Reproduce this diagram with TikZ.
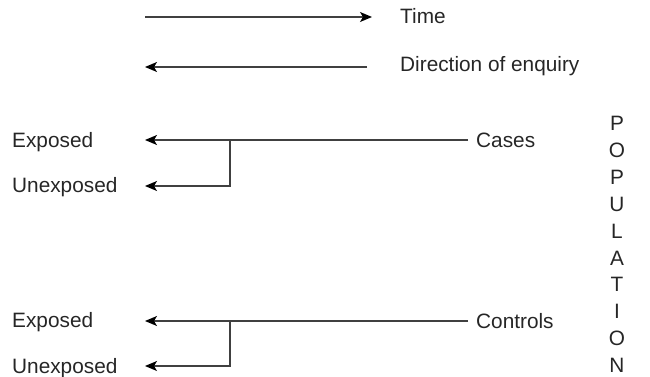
\documentclass[tikz,border=0pt]{standalone}
\usepackage{fontspec}
\setmainfont{Liberation Sans}
\usetikzlibrary{arrows.meta}
\begin{document}
\begin{tikzpicture}[x=1pt,y=-1pt,
  lbl/.style={inner sep=0pt,anchor=base west,font=\fontsize{20.8}{22}\selectfont,text=black!85},
  conn/.style={line width=1.3pt,draw=black!75},
  arr/.style={conn,-{Stealth[length=12pt,width=10pt,inset=3pt,color=black]}}]
\useasboundingbox (0,0) rectangle (650,377);
% legend
\coordinate (t0) at (145,17);
\coordinate (t1) at (372,17);
\draw[arr] (t0) -- (t1);
\node[lbl] (time) at (400,24) {Time};
\coordinate (d0) at (367,67);
\coordinate (d1) at (145,67);
\draw[arr] (d0) -- (d1);
\node[lbl] (dir) at (400,71.5) {Direction of enquiry};
% cases
\node[lbl] (cases) at (476,147) {Cases};
\node[lbl] (exp1) at (12,147) {Exposed};
\node[lbl] (unexp1) at (12,192) {Unexposed};
\coordinate (c0) at (468,140);
\coordinate (c1) at (145,140);
\coordinate (cb) at (230,140);
\coordinate (cu) at (145,186);
\draw[arr] (c0) -- (c1);
\draw[arr] (cb) |- (cu);
% controls
\node[lbl] (controls) at (476,328) {Controls};
\node[lbl] (exp2) at (12,327.5) {Exposed};
\node[lbl] (unexp2) at (12,373) {Unexposed};
\coordinate (k0) at (468,321);
\coordinate (k1) at (145,321);
\coordinate (kb) at (230,321);
\coordinate (ku) at (145,366);
\draw[arr] (k0) -- (k1);
\draw[arr] (kb) |- (ku);
% population
\node[inner sep=0pt,anchor=north,align=center,font=\fontsize{20.8}{26.9}\selectfont,text=black!85] (pop) at (617,116)
  {P\\O\\P\\U\\L\\A\\T\\I\\O\\N};
\end{tikzpicture}
\end{document}
